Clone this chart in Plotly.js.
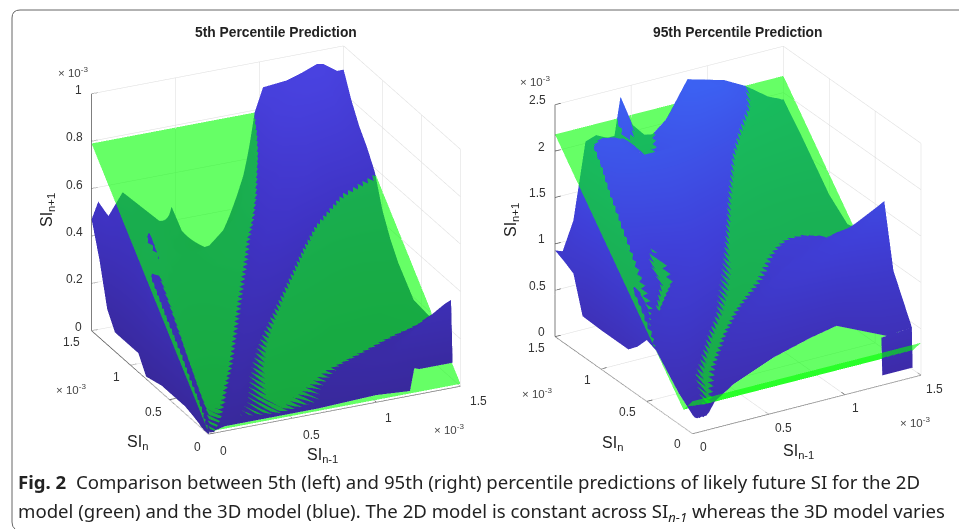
<!DOCTYPE html>
<html><head><meta charset="utf-8">
<script src="https://cdn.plot.ly/plotly-3.0.1.min.js"></script>
<style>html,body{margin:0;padding:0;background:#fff;overflow:hidden}#c{width:959px;height:530px}</style>
</head><body><div id="c"></div>
<script>
var leftRowY=[0,.05,.1,.12,.2,.3,.4,.6,.8,.9,1,1.1,1.2,1.3,1.4,1.5];
var leftNodeX=[
[0,.004,.008,.012,.016,.02,.024,.028,.032,.036,.04,.1,.15,.2,.4,.65,1,1.2,1.2],
[0,.01,.02,.03,.04,.05,.06,.07,.08,.09,.1,.14,.17,.2,.45,.69,1,1.25,1.25],
[0,.02,.035,.05,.06,.07,.08,.09,.1,.12,.14,.18,.23,.27,.5,.72,1.15,1.3,1.5],
[0,.025,.037,.05,.065,.08,.09,.1,.12,.14,.155,.2,.25,.29,.5,.74,1.15,1.3,1.5],
[0,.025,.04,.06,.08,.1,.12,.14,.16,.19,.21,.25,.29,.33,.6,.88,1.15,1.3,1.5],
[0,.025,.047,.07,.1,.13,.16,.19,.22,.26,.286,.32,.36,.4,.8,1.28,1.35,1.42,1.5],
[0,.03,.052,.08,.12,.16,.2,.24,.28,.32,.35,.39,.44,.49,.9,1.2,1.3,1.4,1.5],
[0,.03,.062,.1,.15,.2,.25,.3,.35,.42,.48,.55,.63,.71,1,1.2,1.3,1.4,1.5],
[0,.035,.075,.12,.18,.24,.3,.36,.43,.52,.61,.72,.83,.93,1.1,1.2,1.3,1.4,1.5],
[0,.05,.08,.12,.18,.24,.3,.38,.46,.56,.67,.78,.92,1.05,1.15,1.25,1.35,1.42,1.5],
[0,.05,.08,.11,.14,.24,.32,.4,.5,.62,.74,.88,1.05,1.22,1.28,1.33,1.38,1.44,1.5],
[0,.05,.1,.15,.2,.3,.38,.46,.56,.68,.8,.95,1.1,1.2,1.28,1.34,1.4,1.45,1.5],
[0,.05,.1,.15,.2,.3,.38,.46,.56,.7,.85,1,1.1,1.2,1.28,1.34,1.4,1.45,1.5],
[0,.05,.1,.16,.22,.36,.42,.5,.6,.75,.9,1,1.1,1.2,1.28,1.34,1.4,1.45,1.5],
[0,.04,.1,.18,.3,.42,.46,.54,.66,.78,.94,1.02,1.12,1.22,1.3,1.34,1.4,1.45,1.5],
[0,.04,.1,.185,.446,.476,.554,.72,.8,.92,.97,1.02,1.16,1.25,1.34,1.38,1.42,1.46,1.5]];
var leftBlue=[
[0,0,.01,.005,.005,.005,.005,.005,.005,.005,.01,.02,.02,.02,.02,.02,.03,.02,.02],
[0,.04,.036,.03,.03,.03,.03,.03,.03,.03,.036,.05,.05,.036,.025,.036,.09,.1,.1],
[.005,.07,.062,.05,.05,.05,.05,.05,.05,.055,.062,.09,.09,.062,.045,.062,.12,.07,.07],
[.01,.085,.072,.06,.06,.06,.06,.06,.06,.065,.072,.11,.11,.072,.05,.072,.14,.24,.33],
[.02,.125,.114,.09,.09,.09,.09,.09,.095,.105,.114,.15,.15,.114,.08,.114,.14,.2,.29],
[.03,.18,.166,.13,.13,.13,.13,.135,.14,.155,.166,.19,.19,.166,.1,.166,.175,.19,.23],
[.03,.23,.218,.18,.17,.17,.17,.18,.19,.205,.218,.245,.245,.218,.12,.14,.15,.16,.18],
[.03,.34,.322,.29,.26,.24,.24,.25,.27,.3,.322,.37,.37,.322,.17,.16,.16,.17,.19],
[.01,.44,.426,.39,.34,.32,.32,.33,.35,.39,.426,.52,.52,.426,.3,.26,.25,.27,.29],
[.08,.33,.42,.47,.39,.37,.36,.37,.39,.43,.478,.56,.6,.478,.38,.34,.33,.34,.36],
[.08,.3,.5,.545,.5,.39,.38,.38,.4,.45,.53,.65,.68,.53,.49,.47,.46,.45,.45],
[.08,.3,.4,.43,.44,.4,.38,.39,.41,.48,.582,.7,.74,.7,.67,.65,.62,.6,.585],
[.08,.32,.42,.46,.48,.42,.37,.36,.37,.46,.634,.8,.84,.82,.79,.76,.72,.69,.66],
[.15,.36,.44,.49,.5,.4,.38,.33,.33,.42,.686,.84,.88,.9,.89,.87,.8,.76,.72],
[.33,.48,.47,.53,.47,.39,.42,.31,.27,.36,.738,.85,.9,.93,.94,.93,.88,.84,.8],
[.47,.54,.47,.56,.38,.46,.32,.24,.315,.57,.79,.89,.9,.92,.945,.94,.92,.9,.9]];
var planeX=[0,1.5];
var leftPlaneY=[0,1.5];
var leftPlaneZ=[[.01,.01],[.79,.79]];

var rightFrontY=[0,0,.005,.005,.01,.01,.015,.02,.02,.03,.03,.03,.04,.04,.05,.07,.09,.15,.22,.27,.29,.1,.1];
var rightMidY=[.15,.16,.17,.17,.18,.18,.19,.19,.2,.2,.21,.21,.22,.23,.24,.25,.27,.28,.3,.33,.34,.3,.3];
var rightRowY=[.4,.5,.6,.7,.8,1,1.2,1.3,1.4,1.5];
var rightNodeX=[
[0,.005,.01,.015,.02,.03,.04,.05,.06,.07,.08,.09,.1,.11,.12,.15,.2,.36,.665,.934,1.12,1.34,1.5],
[0,.01,.02,.03,.04,.05,.06,.07,.08,.09,.1,.11,.12,.14,.155,.24,.32,.42,.65,.95,1.15,1.35,1.5],
[0,.02,.04,.06,.08,.1,.12,.14,.16,.18,.2,.22,.24,.27,.33,.4,.47,.56,.75,1,1.2,1.35,1.5],
[0,.02,.03,.05,.07,.09,.11,.14,.17,.2,.24,.28,.32,.38,.45,.53,.62,.72,.9,1.1,1.25,1.38,1.5],
[0,.04,.075,.1,.12,.14,.16,.22,.28,.33,.38,.42,.46,.5,.53,.68,.83,.93,1.05,1.2,1.3,1.4,1.5],
[0,.04,.08,.12,.2,.25,.3,.36,.42,.46,.5,.54,.57,.59,.61,.8,.96,1.05,1.15,1.25,1.33,1.4,1.5],
[0,.05,.09,.124,.19,.25,.31,.38,.44,.5,.55,.6,.64,.67,.69,.85,1,1.1,1.2,1.3,1.4,1.45,1.5],
[0,.05,.1,.145,.2,.26,.32,.4,.47,.55,.62,.7,.75,.8,.83,.95,1.05,1.15,1.25,1.32,1.4,1.45,1.5],
[0,.05,.12,.17,.22,.3,.36,.42,.5,.6,.7,.78,.85,.92,.98,1.08,1.18,1.25,1.3,1.35,1.4,1.45,1.5],
[0,.05,.12,.19,.25,.33,.4,.46,.5,.55,.65,.75,.85,.97,1.08,1.16,1.24,1.3,1.35,1.4,1.44,1.47,1.5],
[0,.05,.12,.2,.26,.33,.38,.44,.5,.56,.6,.72,.85,1.02,1.2,1.26,1.32,1.36,1.4,1.43,1.46,1.48,1.5],
[0,.05,.12,.2,.27,.34,.39,.43,.51,.587,.676,.78,.87,1.11,1.25,1.3,1.35,1.4,1.44,1.47,1.49,1.495,1.5]];
var rightBlue=[
[.2,.19,.18,.17,.16,.15,.14,.14,.13,.13,.13,.12,.12,.12,.11,.12,.2,.28,.39,.45,.49,.42,.45],
[.33,.34,.34,.35,.35,.35,.36,.36,.36,.37,.37,.37,.38,.385,.389,.36,.431,.5,.6,.68,.72,.82,.92],
[.62,.65,.68,.72,.75,.78,.79,.8,.8,.8,.79,.78,.76,.7,.616,.56,.616,.7,.88,1.05,1.2,1.32,1.6],
[.66,.72,.76,.79,.82,.85,.88,.92,.95,.96,.97,.96,.92,.84,.758,.7,.758,.84,1.05,1.15,1.25,1.35,1.45],
[.52,.98,.88,.9,.9,.86,.9,1,1.03,1.05,1.04,1,.98,.94,.9,.83,.9,.98,1.06,1.15,1.2,1.22,1.25],
[.42,1.08,1,1.05,1.05,.98,1.05,1.15,1.2,1.22,1.2,1.15,1.1,1.07,1.042,.95,1.042,1.1,1.13,1.1,1.042,1.03,1.1],
[.42,.9,1.1,1.184,1.2,1.12,1.2,1.27,1.32,1.32,1.3,1.26,1.22,1.2,1.184,1.03,1.1,1.12,1.1,1.06,1.05,1.06,1.07],
[.42,.9,1.2,1.468,1.52,1.58,1.62,1.66,1.7,1.68,1.62,1.57,1.53,1.49,1.468,1.33,1.26,1.22,1.2,1.2,1.22,1.23,1.25],
[.43,.85,1.3,1.752,1.86,1.95,1.99,2,2,2,1.98,1.93,1.86,1.8,1.752,1.62,1.58,1.56,1.55,1.54,1.53,1.53,1.53],
[.82,.95,1.35,1.894,2,2.05,2,1.894,1.85,1.894,2.05,2.14,2.15,2.05,1.894,1.8,1.75,1.72,1.7,1.69,1.68,1.67,1.67],
[.88,.98,1.4,2.036,2.08,2.08,2.036,2,1.98,1.98,2.036,2.2,2.38,2.35,2.036,1.96,1.92,1.88,1.86,1.84,1.82,1.81,1.8],
[.93,.9,1.2,2.02,2.06,2,2,2.41,2.07,1.93,1.9,2.17,2.41,2.3,2.178,2.12,2.06,2,1.97,1.95,1.93,1.93,1.93]];
var rightPlaneY=[0,.1,1.5];
var rightPlaneZ=[[.35,.35],[.19,.19],[2.18,2.18]];
var patchX=[1.3,1.4,1.5];
var patchY=[.09,.1];
var patchZ=[[.02,.02,.02],[.42,.43,.45]];

var xyTicks=[0,.5,1,1.5];
var xyText=['0','0.5','1','1.5'];
var leftZTicks=[0,.2,.4,.6,.8,1];
var leftZText=['0','0.2','0.4','0.6','0.8','1'];
var rightZTicks=[0,.5,1,1.5,2,2.5];
var rightZText=['0','0.5','1','1.5','2','2.5'];

var flat={ambient:1,diffuse:0,specular:0,fresnel:0,roughness:1};
var blueL=[[0,'#38289a'],[.5,'#3f33c4'],[1,'#4a44e4']];
var blueR=[[0,'#3d2aa8'],[.5,'#3f3fd8'],[1,'#3c64f5']];
var greenC=[[0,'rgb(0,255,0)'],[1,'rgb(0,255,0)']];
function surf(scene,x,y,z,cs,cmax,op){
  return {type:'surface',scene:scene,x:x,y:y,z:z,colorscale:cs,cmin:0,cmax:cmax,showscale:false,
    opacity:op,lighting:flat,hoverinfo:'skip',contours:{x:{show:false},y:{show:false},z:{show:false}}};
}
// Wall and floor grid, and the three axis lines, drawn from the tick lists.
function lineTrace(scene,segs,color,width){
  var x=[],y=[],z=[];
  segs.forEach(function(s){x.push(s[0],s[3],null);y.push(s[1],s[4],null);z.push(s[2],s[5],null);});
  return {type:'scatter3d',mode:'lines',scene:scene,x:x,y:y,z:z,line:{color:color,width:width},hoverinfo:'skip',showlegend:false};
}
function gridSegs(zTicks){
  var top=zTicks[zTicks.length-1],end=xyTicks[xyTicks.length-1],s=[];
  xyTicks.forEach(function(v){
    s.push([v,end,0,v,end,top],[end,v,0,end,v,top],[v,0,0,v,end,0],[0,v,0,end,v,0]);
  });
  zTicks.forEach(function(w){
    s.push([0,end,w,end,end,w],[end,0,w,end,end,w]);
  });
  return s;
}
function axisSegs(zTicks){
  var top=zTicks[zTicks.length-1],end=xyTicks[xyTicks.length-1],s=[[0,0,0,end,0,0],[0,0,0,0,end,0],[0,end,0,0,end,top]];
  xyTicks.forEach(function(v){s.push([v,0,0,v,end*.025,0],[0,v,0,end*.025,v,0]);});
  zTicks.forEach(function(w){s.push([0,end,w,end*.025,end,w]);});
  return s;
}
var leftYMatrix=leftRowY.map(function(v,i){return leftNodeX[i].map(function(){return v;});});
var rightYMatrix=[rightFrontY,rightMidY].concat(rightRowY.map(function(v){return rightFrontY.map(function(){return v;});}));
var data=[
 {type:'scatter3d',mode:'markers',scene:'scene',x:[0],y:[0],z:[0],marker:{size:1,color:'#ffffff'},hoverinfo:'skip',showlegend:false},
 lineTrace('scene2',gridSegs(leftZTicks),'#dcdcdc',1),
 lineTrace('scene2',axisSegs(leftZTicks),'#555555',1.5),
 surf('scene2',leftNodeX,leftYMatrix,leftBlue,blueL,1,1),
 surf('scene2',planeX,leftPlaneY,leftPlaneZ,greenC,1,.6),
 lineTrace('scene3',gridSegs(rightZTicks),'#dcdcdc',1),
 lineTrace('scene3',axisSegs(rightZTicks),'#555555',1.5),
 surf('scene3',rightNodeX,rightYMatrix,rightBlue,blueR,2.5,1),
 surf('scene3',patchX,patchY,patchZ,blueR,2.5,1),
 surf('scene3',planeX,rightPlaneY,rightPlaneZ,greenC,2.5,.6)
];
function ax(range){
  return {range:range,autorange:false,title:{text:''},showgrid:false,zeroline:false,showline:false,showbackground:false,showspikes:false,
    ticks:'',showticklabels:false,showaxeslabels:false};
}
var tickFont={family:'Liberation Sans',size:12,color:'#333'};
function tickNotes(zTicks,zText,sx,sy){
  var out=[];
  xyTicks.forEach(function(v,i){
    out.push({x:v,y:0,z:0,text:xyText[i],showarrow:false,xshift:sx[i][0],yshift:-sx[i][1],font:tickFont});
    out.push({x:0,y:v,z:0,text:xyText[i],showarrow:false,xshift:sy[i][0],yshift:-sy[i][1],font:tickFont});
  });
  zTicks.forEach(function(v,i){
    out.push({x:0,y:1.5,z:v,text:zText[i],showarrow:false,xshift:zText[i].length<2?-13:-17,yshift:4,font:tickFont});
  });
  return out;
}
function scene(dom,eye,k,zs,ztick,ztext,zmax,sx,sy){
  return {domain:dom,aspectmode:'manual',aspectratio:{x:k,y:k,z:k*zs},
    camera:{eye:eye,up:{x:0,y:0,z:1},center:{x:0,y:0,z:0},projection:{type:'orthographic'}},
    xaxis:ax([0,1.5]),yaxis:ax([0,1.5]),zaxis:ax([0,zmax]),
    annotations:tickNotes(ztick,ztext,sx,sy)};
}
var W=959,H=530;
function note(text,px,py,opt){
  var a={text:text,xref:'paper',yref:'paper',x:px/W,y:1-py/H,showarrow:false,xanchor:'center',yanchor:'middle',
    font:{family:'Liberation Sans',size:12,color:'#333'}};
  for(var k in (opt||{})){a[k]=opt[k];}
  return a;
}
var sci='× 10<sup>-3</sup>';
var sciFont={family:'Liberation Sans',size:11.5,color:'#444'};
var titleFont={family:'Liberation Sans',size:13.8,color:'#222'};
var labelFont={family:'Liberation Sans',size:16,color:'#222'};
var capFont={family:'Noto Sans',size:18.6,color:'#222'};
var anns=[
 note('<b>5th Percentile Prediction</b>',276,33,{font:titleFont}),
 note('<b>95th Percentile Prediction</b>',737,33,{font:titleFont}),
 note(sci,73,72,{font:sciFont}),
 note(sci,71,389,{font:sciFont}),
 note(sci,449,429,{font:sciFont}),
 note(sci,535,81,{font:sciFont}),
 note(sci,537,393,{font:sciFont}),
 note(sci,915,422,{font:sciFont}),
 note('SI<sub>n+1</sub>',47,210,{textangle:-90,font:labelFont}),
 note('SI<sub>n+1</sub>',511,220,{textangle:-90,font:labelFont}),
 note('SI<sub>n</sub>',137,442,{font:labelFont}),
 note('SI<sub>n</sub>',612,443,{font:labelFont}),
 note('SI<sub>n-1</sub>',322,455,{font:labelFont}),
 note('SI<sub>n-1</sub>',798,451,{font:labelFont}),
 note('<b>Fig. 2</b>  Comparison between 5th (left) and 95th (right) percentile predictions of likely future SI for the 2D',16,481,{xanchor:'left',font:capFont}),
 note('model (green) and the 3D model (blue). The 2D model is constant across SI<sub><i>n-1</i></sub> whereas the 3D model varies',16,512,{xanchor:'left',font:capFont})
];
var d=4;
var layout={width:W,height:H,margin:{l:0,r:0,t:0,b:0},paper_bgcolor:'#fff',showlegend:false,annotations:anns,
 scene:{domain:{x:[0,.004],y:[0,.004]},xaxis:{visible:false},yaxis:{visible:false},zaxis:{visible:false}},
 scene2:scene({x:[46/W,506/W],y:[70/H,510/H]},{x:-.384*d,y:-.829*d,z:.411*d},1.263,.935,leftZTicks,leftZText,1,
   [[15,17],[19,17],[12,16],[18,15]],[[-11,13],[-16,12],[-14,12],[-20,11]]),
 scene3:scene({x:[517.5/W,957.5/W],y:[70.5/H,510.5/H]},{x:-.467*d,y:-.775*d,z:.425*d},1.212,.961,rightZTicks,rightZText,2.5,
   [[11,14],[15,14],[11,14],[14,14]],[[-15,11],[-19,11],[-13,11],[-18,12]]),
 shapes:[{type:'path',xref:'paper',yref:'paper',path:'M '+1.1+' '+(1-10/H)+' L '+(20/W)+' '+(1-10/H)+' Q '+(12/W)+' '+(1-10/H)+' '+(12/W)+' '+(1-18/H)+' L '+(12/W)+' '+(1-522/H)+' Q '+(12/W)+' '+(1-527/H)+' '+(15/W)+' '+(1-529/H),line:{color:'#666',width:1}}]
};
var gd=document.getElementById('c');
Plotly.newPlot(gd,data,layout,{displayModeBar:false});
// Tighten the depth range before the first frame so the crossing of the two surfaces keeps a clean edge.
['scene','scene2','scene3'].forEach(function(s){
  var sc=gd._fullLayout&&gd._fullLayout[s]&&gd._fullLayout[s]._scene;
  if(sc&&sc.glplot){sc.glplot.zFar=10;}
});
</script></body></html>
